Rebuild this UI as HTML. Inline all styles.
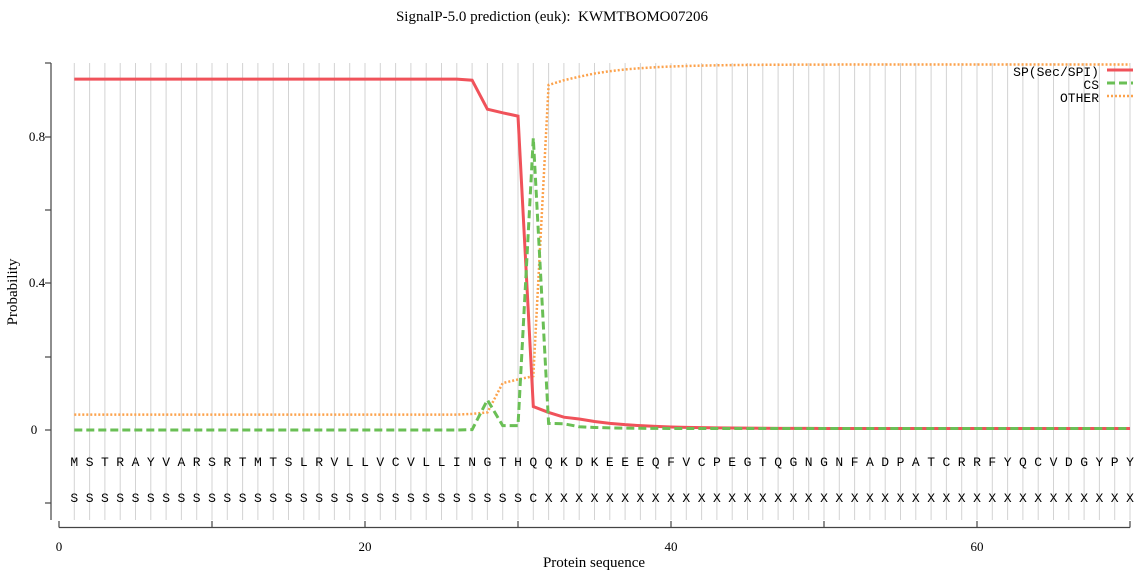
<!DOCTYPE html>
<html><head><meta charset="utf-8"><style>
html,body{margin:0;padding:0;background:#fff;}
svg{display:block;}
</style></head><body>
<svg id="s" width="1139" height="572" xmlns="http://www.w3.org/2000/svg">
<text x="552" y="21" text-anchor="middle" font-family="Liberation Serif, serif" font-size="15" fill="#000">SignalP-5.0 prediction (euk):&#160; KWMTBOMO07206</text>
<g id="grid" stroke="#d3d3d3" stroke-width="1"></g>
<g stroke="#444" stroke-width="1.2" fill="none">
<line x1="51" y1="63" x2="51" y2="520"/>
<line x1="45" y1="63" x2="51" y2="63"/>
<line x1="45" y1="137" x2="51" y2="137"/>
<line x1="45" y1="210" x2="51" y2="210"/>
<line x1="45" y1="283" x2="51" y2="283"/>
<line x1="45" y1="357" x2="51" y2="357"/>
<line x1="45" y1="430" x2="51" y2="430"/>
<line x1="45" y1="503" x2="51" y2="503"/>
<line x1="59" y1="527.5" x2="1130" y2="527.5"/>
</g>
<g id="xt" stroke="#444" stroke-width="1.2"></g>
<g font-family="Liberation Serif, serif" font-size="13" fill="#000">
<text x="37" y="141" text-anchor="middle">0.8</text>
<text x="37" y="287" text-anchor="middle">0.4</text>
<text x="34" y="434" text-anchor="middle">0</text>
<text x="59" y="551" text-anchor="middle">0</text>
<text x="365" y="551" text-anchor="middle">20</text>
<text x="671" y="551" text-anchor="middle">40</text>
<text x="977" y="551" text-anchor="middle">60</text>
<text x="594" y="567" text-anchor="middle" font-size="15">Protein sequence</text>
<text transform="translate(17,292) rotate(-90)" text-anchor="middle" font-size="15">Probability</text>
</g>
<g id="seq" font-family="Liberation Mono, monospace" font-size="13" fill="#000" text-anchor="middle"></g>
<g id="lines" fill="none"></g>
<g font-family="Liberation Mono, monospace" font-size="13" fill="#000" text-anchor="end">
<text x="1099" y="76">SP(Sec/SPI)</text>
<text x="1099" y="89">CS</text>
<text x="1099" y="102">OTHER</text>
</g>
<line x1="1107" y1="70" x2="1133" y2="70" stroke="#f0525a" stroke-width="3"/>
<line x1="1107" y1="83" x2="1133" y2="83" stroke="#6abf55" stroke-width="3" stroke-dasharray="8,4"/>
<line x1="1107" y1="96" x2="1133" y2="96" stroke="#fca24c" stroke-width="2.5" stroke-dasharray="2,2"/>
</svg>
<script>
var X=function(i){return 59+15.3*i;},Y=function(p){return 430-366.25*p;};
var ns="http://www.w3.org/2000/svg";
function el(t,a,p){var e=document.createElementNS(ns,t);for(var k in a)e.setAttribute(k,a[k]);p.appendChild(e);return e;}
var g=document.getElementById('grid');
for(var i=1;i<=70;i++)el('line',{x1:X(i),x2:X(i),y1:63,y2:520},g);
var xt=document.getElementById('xt');
for(var i=0;i<=70;i+=10)el('line',{x1:X(i),x2:X(i),y1:521,y2:527.5},xt);
var seq="MSTRAYVARSRTMTSLRVLLVCVLLINGTHQQKDKEEEQFVCPEGTQGNGNFADPATCRRFYQCVDGYPY";
var lab="";for(var i=0;i<30;i++)lab+="S";lab+="C";for(var i=0;i<39;i++)lab+="X";
var sg=document.getElementById('seq');
for(var i=0;i<70;i++){var t=el('text',{x:X(i+1),y:466},sg);t.textContent=seq[i];var u=el('text',{x:X(i+1),y:502},sg);u.textContent=lab[i];}
var sp=[],cs=[],ot=[];
for(var i=1;i<=70;i++){
 var a,b,c;
 if(i<=26){a=0.958;b=0;c=0.042;}
 else if(i==27){a=0.955;b=0.001;c=0.044;}
 else if(i==28){a=0.876;b=0.082;c=0.048;}
 else if(i==29){a=0.866;b=0.012;c=0.128;}
 else if(i==30){a=0.857;b=0.012;c=0.138;}
 else if(i==31){a=0.064;b=0.797;c=0.147;}
 else if(i==32){a=0.048;b=0.018;c=0.942;}
 else if(i==33){a=0.035;b=0.017;c=0.955;}
 else {var d=i-33;a=0.035*Math.exp(-d*0.3)+0.004;b=0.004+0.008*Math.exp(-d*0.5);c=1-0.045*Math.exp(-d*0.3)-0.002;}
 sp.push(X(i)+","+Y(a));cs.push(X(i)+","+Y(b));ot.push(X(i)+","+Y(c));
}
var L=document.getElementById('lines');
el('polyline',{points:ot.join(" "),stroke:"#fca24c","stroke-width":2.5,"stroke-dasharray":"2,2"},L);
el('polyline',{points:sp.join(" "),stroke:"#f0525a","stroke-width":3},L);
el('polyline',{points:cs.join(" "),stroke:"#6abf55","stroke-width":3,"stroke-dasharray":"8,4"},L);
</script>
</body></html>
